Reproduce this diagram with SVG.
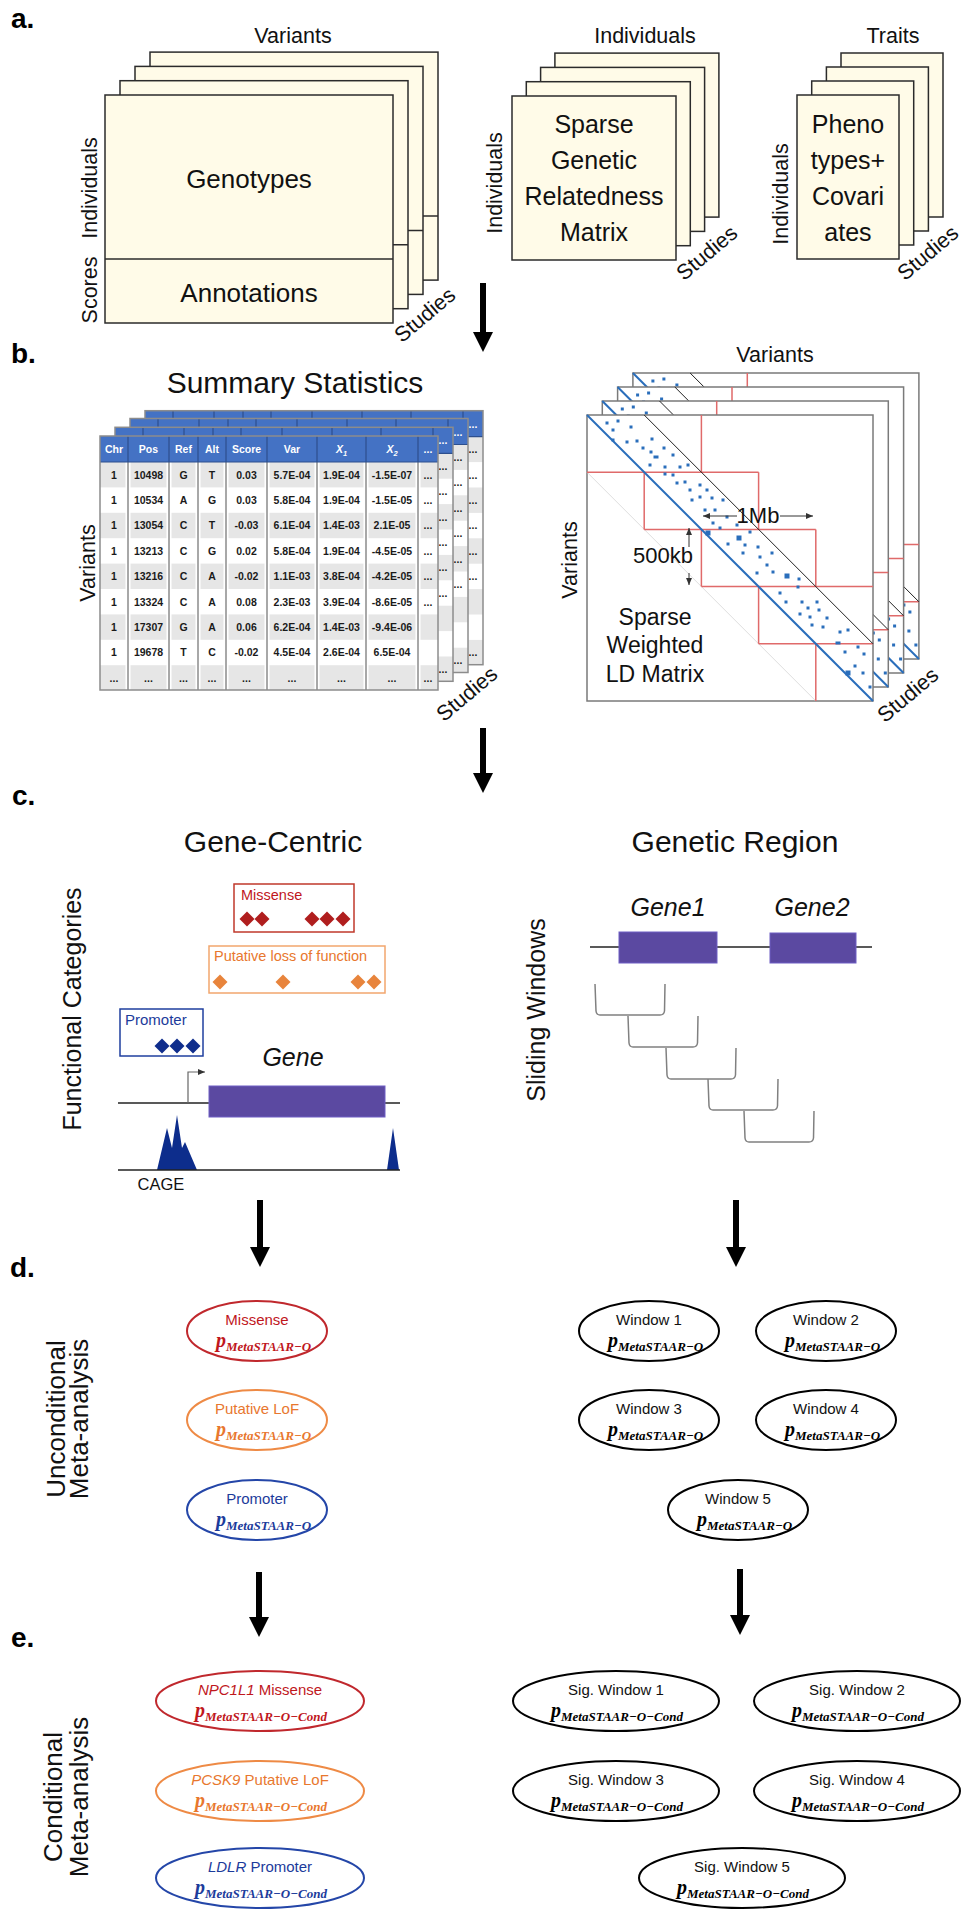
<svg xmlns="http://www.w3.org/2000/svg" width="971" height="1920" viewBox="0 0 971 1920">
<style>
text{font-family:"Liberation Sans",Arial,sans-serif;fill:#111}
.pl{font-size:28px;font-weight:bold;fill:#000}
.ax{font-size:21.5px}
.mid{text-anchor:middle}
.sheet{fill:#fffbe8;stroke:#2b2b2b;stroke-width:1.5}
.div{stroke:#2b2b2b;stroke-width:1.5}
.big{font-size:26px}
.mt{font-size:25px}
.ttl{font-size:30px}
.th{font-size:10.5px;font-weight:bold;fill:#fff;text-anchor:middle}
.td{font-size:10.5px;font-weight:bold;fill:#1a1a1a;text-anchor:middle}
.hd{fill:#4472c4}
.hdiv{stroke:#2d4f8e;stroke-width:1.2}
.gap{stroke:#fff;stroke-width:5}
.cdiv{stroke:#8c8c8c;stroke-width:1.5}
.band{fill:#e6e6e6}
.red{stroke:#e06a6a;stroke-width:1.5;fill:none}
.ldf{fill:#fff;stroke:#7a7a7a;stroke-width:1.5}
.conn{stroke:#000;stroke-width:6;fill:none;marker-end:url(#bigArrow)}
.dim{stroke:#333;stroke-width:1;marker-end:url(#smArrow)}
.gline{stroke:#222;stroke-width:1.5}
.exon{fill:#5b49a1;stroke:#6e5fc4;stroke-width:1}
.brk{fill:none;stroke:#808080;stroke-width:1.5}
.el{fill:#fff;stroke-width:2}
.lab{font-size:15px;text-anchor:middle}
.pv{font-family:"Liberation Serif","Times New Roman",serif;font-style:italic;font-weight:bold}
.pp{font-size:20px}
.sub{font-size:13px}
.rd{fill:#c0171d}
.rs{stroke:#c0282d}
.og{fill:#e8772e}
.os{stroke:#ee8a45}
.bl{fill:#1c3b9b}
.bs{stroke:#2446a8}
.bk{fill:#000}
.ks{stroke:#000}
</style>
<defs>
<marker id="bigArrow" markerUnits="userSpaceOnUse" markerWidth="20" markerHeight="20" viewBox="0 0 20 20" refX="0" refY="10" orient="auto"><path d="M0,0 L20,10 L0,20 Z" fill="#000"/></marker>
<marker id="smArrow" markerUnits="userSpaceOnUse" markerWidth="7" markerHeight="6" viewBox="0 0 7 6" refX="7" refY="3" orient="auto"><path d="M0,0 L7,3 L0,6 Z" fill="#333"/></marker>
<path id="dm" d="M0,-7.5 L7.5,0 L0,7.5 L-7.5,0 Z"/>
<path id="brk" class="brk" d="M0,0 L1,27 Q1.5,31 5,31 L65,31 Q69,31 69.5,27 L70,0"/>
<g id="tblBase">
<rect x="100" y="436" width="338" height="254" fill="#fff"/>
<rect class="hd" x="100" y="436" width="338" height="26"/>
<rect class="band" x="100" y="462" width="338" height="25.4"/>
<rect class="band" x="100" y="512.8" width="338" height="25.4"/>
<rect class="band" x="100" y="563.6" width="338" height="25.4"/>
<rect class="band" x="100" y="614.4" width="338" height="25.4"/>
<rect class="band" x="100" y="665.2" width="338" height="24.8"/>
<path class="gap" d="M128,462V690M169,462V690M198,462V690M226,462V690M267,462V690M317,462V690M366,462V690M418,462V690"/>
<path class="cdiv" d="M128,462V690M169,462V690M198,462V690M226,462V690M267,462V690M317,462V690M366,462V690M418,462V690"/>
<path class="hdiv" d="M128,436V462M169,436V462M198,436V462M226,436V462M267,436V462M317,436V462M366,436V462M418,436V462M100,462H438"/>
<rect x="100" y="436" width="338" height="254" fill="none" stroke="#8c8c8c" stroke-width="1.5"/>
<text class="th" x="428" y="453">...</text>
<text class="td"><tspan x="428" y="478.5">...</tspan><tspan x="428" y="503.9">...</tspan><tspan x="428" y="529.3">...</tspan><tspan x="428" y="554.7">...</tspan><tspan x="428" y="580.1">...</tspan><tspan x="428" y="605.5">...</tspan><tspan x="428" y="681.7">...</tspan></text>
</g>
<g id="ldm">
<rect class="ldf" x="587" y="415" width="286" height="286"/>
<line x1="587" y1="472.2" x2="815.8" y2="701" stroke="#dedede" stroke-width="1"/>
<path class="red" d="M644.2,472.2V529.4M701.4,415V472.2M701.4,529.4V586.6M758.6,472.2V529.4M758.6,586.6V643.8M815.8,529.4V586.6M815.8,643.8V701M587,472.2H758.6M644.2,529.4H815.8M701.4,586.6H873M758.6,643.8H873"/>
<line x1="644.2" y1="415" x2="873" y2="643.8" stroke="#222" stroke-width="1"/>
<line x1="587" y1="415" x2="873" y2="701" stroke="#2a6ebb" stroke-width="2"/>
<path fill="#2a6ebb" d="M605.5,421.5h3v3h-3zM616.5,419.5h3v3h-3zM629.5,425.5h3v3h-3zM611.5,428.5h3v3h-3zM635.5,439.5h3v3h-3zM625.5,440.5h3v3h-3zM650.5,437.5h3v3h-3zM641.5,446.5h3v3h-3zM649.5,450.5h3v3h-3zM662.5,446.5h3v3h-3zM671.5,453.5h3v3h-3zM648.5,463.5h3v3h-3zM663.5,465.5h3v3h-3zM678.5,465.5h3v3h-3zM686.5,463.5h3v3h-3zM663.5,472.5h3v3h-3zM671.5,473.5h3v3h-3zM675.5,481.5h3v3h-3zM683.5,480.5h3v3h-3zM688.5,488.5h3v3h-3zM698.5,483.5h3v3h-3zM705.5,488.5h3v3h-3zM690.5,498.5h3v3h-3zM698.5,495.5h3v3h-3zM710.5,496.5h3v3h-3zM721.5,498.5h3v3h-3zM703.5,508.5h3v3h-3zM713.5,508.5h3v3h-3zM725.5,515.5h3v3h-3zM735.5,523.5h3v3h-3zM711.5,521.5h3v3h-3zM718.5,526.5h3v3h-3zM726.5,542.5h3v3h-3zM743.5,543.5h3v3h-3zM741.5,551.5h3v3h-3zM756.5,545.5h3v3h-3zM748.5,530.5h3v3h-3zM758.5,555.5h3v3h-3zM770.5,551.5h3v3h-3zM765.5,563.5h3v3h-3zM771.5,570.5h3v3h-3zM755.5,571.5h3v3h-3zM797.5,577.5h3v3h-3zM796.5,585.5h3v3h-3zM778.5,591.5h3v3h-3zM784.5,600.5h3v3h-3zM800.5,600.5h3v3h-3zM815.5,600.5h3v3h-3zM806.5,606.5h3v3h-3zM817.5,608.5h3v3h-3zM798.5,612.5h3v3h-3zM808.5,615.5h3v3h-3zM825.5,616.5h3v3h-3zM810.5,623.5h3v3h-3zM821.5,625.5h3v3h-3zM838.5,630.5h3v3h-3zM846.5,628.5h3v3h-3zM856.5,645.5h3v3h-3zM843.5,650.5h3v3h-3zM862.5,652.5h3v3h-3zM853.5,664.5h3v3h-3zM861.5,671.5h3v3h-3zM868.5,685.5h3v3h-3zM611.5,438.5h3v3h-3zM653.5,455.5h5v3h-5zM705.5,530.5h5v5h-5zM736.5,535.5h5v5h-5zM784.5,573.5h5v5h-5zM845.5,670.5h5v5h-5zM835.5,641.5h5v3h-5z"/>
</g>
</defs>

<g id="labels">
<text class="pl" x="11" y="28">a.</text>
<text class="pl" x="11" y="363">b.</text>
<text class="pl" x="12" y="805">c.</text>
<text class="pl" x="10" y="1277">d.</text>
<text class="pl" x="11" y="1647">e.</text>
</g>

<g id="genotypes">
<rect class="sheet" x="150" y="52.1" width="288" height="228"/><line class="div" x1="150" y1="216.1" x2="438" y2="216.1"/>
<rect class="sheet" x="135" y="66.4" width="288" height="228"/><line class="div" x1="135" y1="230.4" x2="423" y2="230.4"/>
<rect class="sheet" x="120" y="80.7" width="288" height="228"/><line class="div" x1="120" y1="244.7" x2="408" y2="244.7"/>
<rect class="sheet" x="105" y="95" width="288" height="228"/><line class="div" x1="105" y1="259" x2="393" y2="259"/>
<text class="big mid" x="249" y="188">Genotypes</text>
<text class="big mid" x="249" y="302">Annotations</text>
<text class="ax mid" x="293" y="43">Variants</text>
<text class="ax mid" transform="translate(97,188) rotate(-90)">Individuals</text>
<text class="ax mid" transform="translate(97,290) rotate(-90)">Scores</text>
<text class="ax mid" transform="translate(425,315) rotate(-40)" y="7">Studies</text>
</g>

<g id="grm">
<rect class="sheet" x="554.9" y="53.1" width="164" height="164"/>
<rect class="sheet" x="540.6" y="67.4" width="164" height="164"/>
<rect class="sheet" x="526.3" y="81.7" width="164" height="164"/>
<rect class="sheet" x="512" y="96" width="164" height="164"/>
<text class="mt mid" x="594" y="133">Sparse</text>
<text class="mt mid" x="594" y="169">Genetic</text>
<text class="mt mid" x="594" y="205">Relatedness</text>
<text class="mt mid" x="594" y="241">Matrix</text>
<text class="ax mid" x="645" y="43">Individuals</text>
<text class="ax mid" transform="translate(502,183) rotate(-90)">Individuals</text>
<text class="ax mid" transform="translate(707,253) rotate(-40)" y="7">Studies</text>
</g>

<g id="traits">
<rect class="sheet" x="841" y="53" width="102" height="164"/>
<rect class="sheet" x="826.4" y="67" width="102" height="164"/>
<rect class="sheet" x="811.7" y="81" width="102" height="164"/>
<rect class="sheet" x="797" y="95" width="102" height="164"/>
<text class="mt mid" x="848" y="133">Pheno</text>
<text class="mt mid" x="848" y="169">types+</text>
<text class="mt mid" x="848" y="205">Covari</text>
<text class="mt mid" x="848" y="241">ates</text>
<text class="ax mid" x="893" y="43">Traits</text>
<text class="ax mid" transform="translate(788,194) rotate(-90)">Individuals</text>
<text class="ax mid" transform="translate(928,253) rotate(-40)" y="7">Studies</text>
</g>

<g id="sumstats">
<text class="ttl mid" x="295" y="393">Summary Statistics</text>
<use href="#tblBase" transform="translate(45,-25.3)"/>
<use href="#tblBase" transform="translate(30,-17.5)"/>
<use href="#tblBase" transform="translate(15,-8.7)"/>
<use href="#tblBase"/>
<text class="th" y="453"><tspan x="114">Chr</tspan><tspan x="148.5">Pos</tspan><tspan x="183.5">Ref</tspan><tspan x="212">Alt</tspan><tspan x="246.5">Score</tspan><tspan x="292">Var</tspan><tspan x="341.5" font-style="italic">X<tspan font-size="7.5" dy="3">1</tspan></tspan><tspan x="392" dy="-3" font-style="italic">X<tspan font-size="7.5" dy="3">2</tspan></tspan></text>
<text class="td" y="478.5"><tspan x="114">1</tspan><tspan x="148.5">10498</tspan><tspan x="183.5">G</tspan><tspan x="212">T</tspan><tspan x="246.5">0.03</tspan><tspan x="292">5.7E-04</tspan><tspan x="341.5">1.9E-04</tspan><tspan x="392">-1.5E-07</tspan></text>
<text class="td" y="503.9"><tspan x="114">1</tspan><tspan x="148.5">10534</tspan><tspan x="183.5">A</tspan><tspan x="212">G</tspan><tspan x="246.5">0.03</tspan><tspan x="292">5.8E-04</tspan><tspan x="341.5">1.9E-04</tspan><tspan x="392">-1.5E-05</tspan></text>
<text class="td" y="529.3"><tspan x="114">1</tspan><tspan x="148.5">13054</tspan><tspan x="183.5">C</tspan><tspan x="212">T</tspan><tspan x="246.5">-0.03</tspan><tspan x="292">6.1E-04</tspan><tspan x="341.5">1.4E-03</tspan><tspan x="392">2.1E-05</tspan></text>
<text class="td" y="554.7"><tspan x="114">1</tspan><tspan x="148.5">13213</tspan><tspan x="183.5">C</tspan><tspan x="212">G</tspan><tspan x="246.5">0.02</tspan><tspan x="292">5.8E-04</tspan><tspan x="341.5">1.9E-04</tspan><tspan x="392">-4.5E-05</tspan></text>
<text class="td" y="580.1"><tspan x="114">1</tspan><tspan x="148.5">13216</tspan><tspan x="183.5">C</tspan><tspan x="212">A</tspan><tspan x="246.5">-0.02</tspan><tspan x="292">1.1E-03</tspan><tspan x="341.5">3.8E-04</tspan><tspan x="392">-4.2E-05</tspan></text>
<text class="td" y="605.5"><tspan x="114">1</tspan><tspan x="148.5">13324</tspan><tspan x="183.5">C</tspan><tspan x="212">A</tspan><tspan x="246.5">0.08</tspan><tspan x="292">2.3E-03</tspan><tspan x="341.5">3.9E-04</tspan><tspan x="392">-8.6E-05</tspan></text>
<text class="td" y="630.9"><tspan x="114">1</tspan><tspan x="148.5">17307</tspan><tspan x="183.5">G</tspan><tspan x="212">A</tspan><tspan x="246.5">0.06</tspan><tspan x="292">6.2E-04</tspan><tspan x="341.5">1.4E-03</tspan><tspan x="392">-9.4E-06</tspan></text>
<text class="td" y="656.3"><tspan x="114">1</tspan><tspan x="148.5">19678</tspan><tspan x="183.5">T</tspan><tspan x="212">C</tspan><tspan x="246.5">-0.02</tspan><tspan x="292">4.5E-04</tspan><tspan x="341.5">2.6E-04</tspan><tspan x="392">6.5E-04</tspan></text>
<text class="td" y="681.7"><tspan x="114">...</tspan><tspan x="148.5">...</tspan><tspan x="183.5">...</tspan><tspan x="212">...</tspan><tspan x="246.5">...</tspan><tspan x="292">...</tspan><tspan x="341.5">...</tspan><tspan x="392">...</tspan></text>
<text class="ax mid" transform="translate(95,563) rotate(-90)">Variants</text>
<text class="ax mid" transform="translate(467,694) rotate(-40)" y="7">Studies</text>
</g>

<g id="ldmatrix">
<text class="ax mid" x="775" y="362">Variants</text>
<use href="#ldm" transform="translate(45.9,-42)"/>
<use href="#ldm" transform="translate(30.6,-28)"/>
<use href="#ldm" transform="translate(15.3,-14)"/>
<use href="#ldm"/>
<line class="dim" x1="737" y1="516" x2="703" y2="516"/>
<line class="dim" x1="780" y1="516" x2="813" y2="516"/>
<text x="758" y="523" font-size="22" text-anchor="middle">1Mb</text>
<line class="dim" x1="689" y1="547" x2="689" y2="528"/>
<line class="dim" x1="689" y1="573" x2="689" y2="585"/>
<text x="663" y="563" font-size="22" text-anchor="middle">500kb</text>
<text x="655" y="625" font-size="23" text-anchor="middle">Sparse</text>
<text x="655" y="653" font-size="23" text-anchor="middle">Weighted</text>
<text x="655" y="682" font-size="23" text-anchor="middle">LD Matrix</text>
<text class="ax mid" transform="translate(577,560) rotate(-90)">Variants</text>
<text class="ax mid" transform="translate(908,695) rotate(-40)" y="7">Studies</text>
</g>

<g id="geneCentric">
<text class="ttl mid" x="273" y="852">Gene-Centric</text>
<text class="mid" font-size="25" transform="translate(81,1009) rotate(-90)">Functional Categories</text>
<rect x="234" y="884" width="120" height="48" fill="none" stroke="#c0392b" stroke-width="1.5"/>
<text x="241" y="900" font-size="14.5" class="rd">Missense</text>
<g fill="#b01e1e"><use href="#dm" x="247" y="919"/><use href="#dm" x="262" y="919"/><use href="#dm" x="312" y="919"/><use href="#dm" x="327" y="919"/><use href="#dm" x="343" y="919"/></g>
<rect x="209" y="946" width="176" height="47" fill="none" stroke="#f2a66e" stroke-width="1.5"/>
<text x="214" y="961" font-size="14.5" class="og">Putative loss of function</text>
<g fill="#e8843c"><use href="#dm" x="220" y="982"/><use href="#dm" x="283" y="982"/><use href="#dm" x="358" y="982"/><use href="#dm" x="374" y="982"/></g>
<rect x="120" y="1009" width="83" height="47" fill="none" stroke="#1f3f9f" stroke-width="1.5"/>
<text x="125" y="1025" font-size="15" class="bl">Promoter</text>
<g fill="#0f2d8c"><use href="#dm" x="162" y="1046"/><use href="#dm" x="177" y="1046"/><use href="#dm" x="193" y="1046"/></g>
<text x="293" y="1066" font-size="25" font-style="italic" text-anchor="middle">Gene</text>
<line class="gline" x1="118" y1="1103" x2="400" y2="1103"/>
<rect class="exon" x="209" y="1086" width="176" height="31"/>
<path d="M188,1103 V1072 H205" fill="none" stroke="#666" stroke-width="1.2" marker-end="url(#smArrow)"/>
<path fill="#0d2d8c" d="M157,1170 L167,1128 L172,1148 L177,1115 L182,1148 L185,1142 L197,1170 Z M387,1170 L393,1128 L399,1170 Z"/>
<line class="gline" x1="118" y1="1170" x2="400" y2="1170"/>
<text x="161" y="1190" font-size="16.5" text-anchor="middle">CAGE</text>
</g>

<g id="geneticRegion">
<text class="ttl mid" x="735" y="852">Genetic Region</text>
<text class="mid" font-size="25" transform="translate(545,1010) rotate(-90)">Sliding Windows</text>
<text x="668" y="916" font-size="25" font-style="italic" text-anchor="middle">Gene1</text>
<text x="812" y="916" font-size="25" font-style="italic" text-anchor="middle">Gene2</text>
<line class="gline" x1="590" y1="947" x2="872" y2="947"/>
<rect class="exon" x="619" y="932" width="98" height="31"/>
<rect class="exon" x="770" y="933" width="86" height="30"/>
<use href="#brk" x="595" y="984"/>
<use href="#brk" x="628" y="1016"/>
<use href="#brk" x="666" y="1048"/>
<use href="#brk" x="708" y="1079"/>
<use href="#brk" x="744" y="1111"/>
</g>

<g id="uncondLabel">
<text class="mid" font-size="26" transform="translate(65,1419) rotate(-90)">Unconditional</text>
<text class="mid" font-size="26" transform="translate(88,1419) rotate(-90)">Meta-analysis</text>
</g>
<g id="d-missense"><ellipse class="el rs" cx="257" cy="1331" rx="70" ry="30"/><text class="lab rd" x="257" y="1325">Missense</text><text class="pv rd" x="216" y="1346.5"><tspan class="pp">p</tspan><tspan class="sub" dy="4">MetaSTAAR−O</tspan></text></g>
<g id="d-lof"><ellipse class="el os" cx="257" cy="1420" rx="70" ry="30"/><text class="lab og" x="257" y="1414">Putative LoF</text><text class="pv og" x="216" y="1435.5"><tspan class="pp">p</tspan><tspan class="sub" dy="4">MetaSTAAR−O</tspan></text></g>
<g id="d-promoter"><ellipse class="el bs" cx="257" cy="1510" rx="70" ry="30"/><text class="lab bl" x="257" y="1504">Promoter</text><text class="pv bl" x="216" y="1525.5"><tspan class="pp">p</tspan><tspan class="sub" dy="4">MetaSTAAR−O</tspan></text></g>
<g id="d-w1"><ellipse class="el ks" cx="649" cy="1331" rx="70" ry="30"/><text class="lab" x="649" y="1325">Window 1</text><text class="pv bk" x="608" y="1346.5"><tspan class="pp">p</tspan><tspan class="sub" dy="4">MetaSTAAR−O</tspan></text></g>
<g id="d-w2"><ellipse class="el ks" cx="826" cy="1331" rx="70" ry="30"/><text class="lab" x="826" y="1325">Window 2</text><text class="pv bk" x="785" y="1346.5"><tspan class="pp">p</tspan><tspan class="sub" dy="4">MetaSTAAR−O</tspan></text></g>
<g id="d-w3"><ellipse class="el ks" cx="649" cy="1420" rx="70" ry="30"/><text class="lab" x="649" y="1414">Window 3</text><text class="pv bk" x="608" y="1435.5"><tspan class="pp">p</tspan><tspan class="sub" dy="4">MetaSTAAR−O</tspan></text></g>
<g id="d-w4"><ellipse class="el ks" cx="826" cy="1420" rx="70" ry="30"/><text class="lab" x="826" y="1414">Window 4</text><text class="pv bk" x="785" y="1435.5"><tspan class="pp">p</tspan><tspan class="sub" dy="4">MetaSTAAR−O</tspan></text></g>
<g id="d-w5"><ellipse class="el ks" cx="738" cy="1510" rx="70" ry="30"/><text class="lab" x="738" y="1504">Window 5</text><text class="pv bk" x="697" y="1525.5"><tspan class="pp">p</tspan><tspan class="sub" dy="4">MetaSTAAR−O</tspan></text></g>

<g id="condLabel">
<text class="mid" font-size="26" transform="translate(62,1797) rotate(-90)">Conditional</text>
<text class="mid" font-size="26" transform="translate(88,1797) rotate(-90)">Meta-analysis</text>
</g>
<g id="e-missense"><ellipse class="el rs" cx="260" cy="1701" rx="104" ry="30"/><text class="lab rd" x="260" y="1695"><tspan font-style="italic">NPC1L1</tspan> Missense</text><text class="pv rd" x="195" y="1716.5"><tspan class="pp">p</tspan><tspan class="sub" dy="4">MetaSTAAR−O−Cond</tspan></text></g>
<g id="e-lof"><ellipse class="el os" cx="260" cy="1791" rx="104" ry="30"/><text class="lab og" x="260" y="1785"><tspan font-style="italic">PCSK9</tspan> Putative LoF</text><text class="pv og" x="195" y="1806.5"><tspan class="pp">p</tspan><tspan class="sub" dy="4">MetaSTAAR−O−Cond</tspan></text></g>
<g id="e-promoter"><ellipse class="el bs" cx="260" cy="1878" rx="104" ry="30"/><text class="lab bl" x="260" y="1872"><tspan font-style="italic">LDLR</tspan> Promoter</text><text class="pv bl" x="195" y="1893.5"><tspan class="pp">p</tspan><tspan class="sub" dy="4">MetaSTAAR−O−Cond</tspan></text></g>
<g id="e-w1"><ellipse class="el ks" cx="616" cy="1701" rx="103" ry="30"/><text class="lab" x="616" y="1695">Sig. Window 1</text><text class="pv bk" x="551" y="1716.5"><tspan class="pp">p</tspan><tspan class="sub" dy="4">MetaSTAAR−O−Cond</tspan></text></g>
<g id="e-w2"><ellipse class="el ks" cx="857" cy="1701" rx="103" ry="30"/><text class="lab" x="857" y="1695">Sig. Window 2</text><text class="pv bk" x="792" y="1716.5"><tspan class="pp">p</tspan><tspan class="sub" dy="4">MetaSTAAR−O−Cond</tspan></text></g>
<g id="e-w3"><ellipse class="el ks" cx="616" cy="1791" rx="103" ry="30"/><text class="lab" x="616" y="1785">Sig. Window 3</text><text class="pv bk" x="551" y="1806.5"><tspan class="pp">p</tspan><tspan class="sub" dy="4">MetaSTAAR−O−Cond</tspan></text></g>
<g id="e-w4"><ellipse class="el ks" cx="857" cy="1791" rx="103" ry="30"/><text class="lab" x="857" y="1785">Sig. Window 4</text><text class="pv bk" x="792" y="1806.5"><tspan class="pp">p</tspan><tspan class="sub" dy="4">MetaSTAAR−O−Cond</tspan></text></g>
<g id="e-w5"><ellipse class="el ks" cx="742" cy="1878" rx="103" ry="30"/><text class="lab" x="742" y="1872">Sig. Window 5</text><text class="pv bk" x="677" y="1893.5"><tspan class="pp">p</tspan><tspan class="sub" dy="4">MetaSTAAR−O−Cond</tspan></text></g>

<g id="connectors">
<line class="conn" x1="483" y1="283" x2="483" y2="332"/>
<line class="conn" x1="483" y1="728" x2="483" y2="773"/>
<line class="conn" x1="260" y1="1200" x2="260" y2="1247"/>
<line class="conn" x1="736" y1="1200" x2="736" y2="1247"/>
<line class="conn" x1="259" y1="1572" x2="259" y2="1617"/>
<line class="conn" x1="740" y1="1569" x2="740" y2="1615"/>
</g>
</svg>
